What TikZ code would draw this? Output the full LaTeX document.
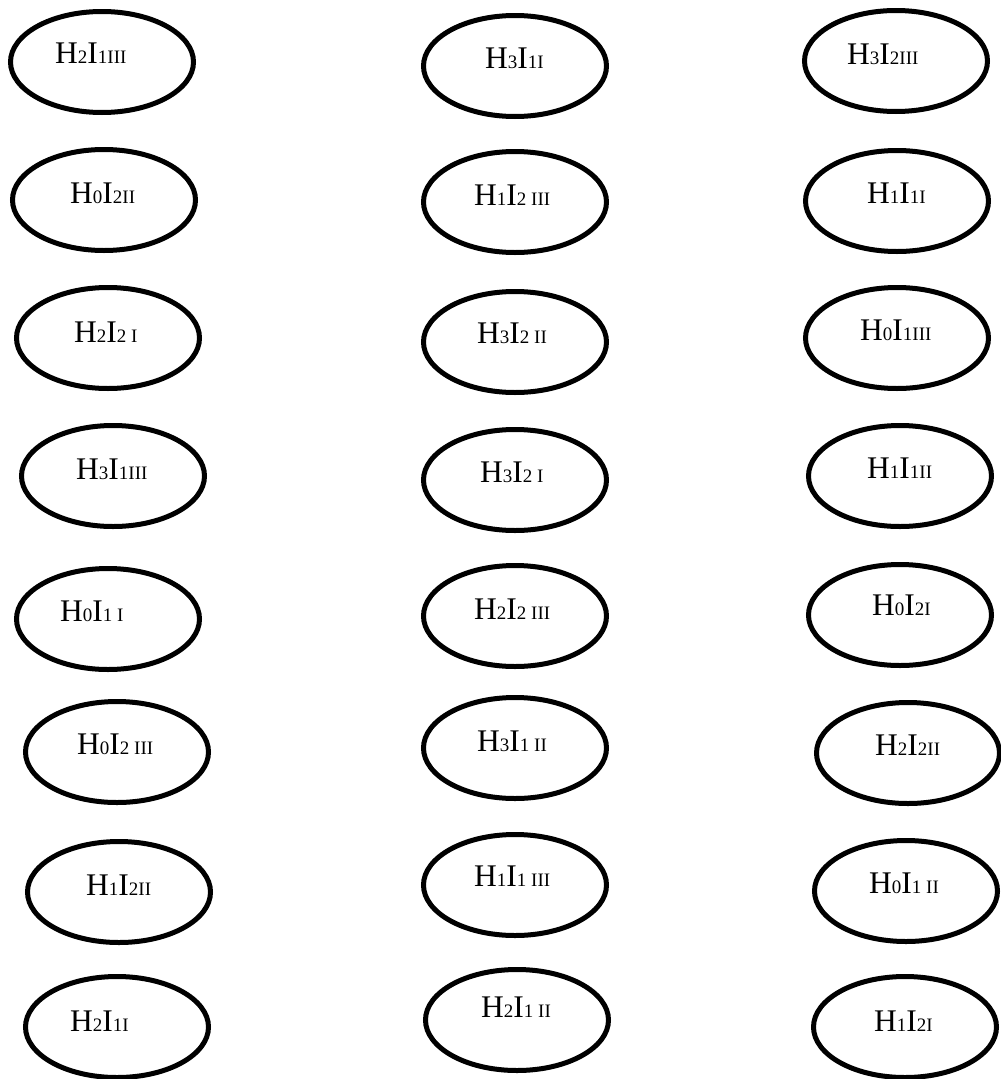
\documentclass[tikz,border=0pt]{standalone}
\usepackage{fontspec}
\setmainfont{Liberation Serif}
\usetikzlibrary{shapes.geometric}
\newcommand\sm[1]{{\fontsize{19}{19}\selectfont #1}}
\tikzset{
  oval/.style={draw=black, line width=5pt, ellipse, minimum width=183pt, minimum height=101pt, inner sep=0pt},
  lab/.style={anchor=base west, inner sep=0pt, font=\fontsize{31.5}{31.5}\selectfont}
}
\begin{document}
\begin{tikzpicture}[x=1pt,y=-1pt]
\useasboundingbox[fill=white] (0,0) rectangle (1001,1079);
% column 1
\node[oval] (e11) at (102,62) {};
\node[oval] (e12) at (104,200) {};
\node[oval] (e13) at (108,338) {};
\node[oval] (e14) at (113,476) {};
\node[oval] (e15) at (108,619) {};
\node[oval] (e16) at (117,752) {};
\node[oval] (e17) at (119,892) {};
\node[oval] (e18) at (117,1027) {};
\node[lab] (t11) at (55,63) {H\sm{2}I\sm{1III}};
\node[lab] (t12) at (70,203) {H\sm{0}I\sm{2II}};
\node[lab] (t13) at (74,342) {H\sm{2}I\sm{2 I}};
\node[lab] (t14) at (76,479) {H\sm{3}I\sm{1III}};
\node[lab] (t15) at (60,621) {H\sm{0}I\sm{1 I}};
\node[lab] (t16) at (77,754) {H\sm{0}I\sm{2 III}};
\node[lab] (t17) at (86,895) {H\sm{1}I\sm{2II}};
\node[lab] (t18) at (70,1031) {H\sm{2}I\sm{1I}};
% column 2
\node[oval] (e21) at (515,66) {};
\node[oval] (e22) at (515,202) {};
\node[oval] (e23) at (515,342) {};
\node[oval] (e24) at (515,480) {};
\node[oval] (e25) at (515,616) {};
\node[oval] (e26) at (515,748) {};
\node[oval] (e27) at (515,885) {};
\node[oval] (e28) at (517,1020) {};
\node[lab] (t21) at (485,68) {H\sm{3}I\sm{1I}};
\node[lab] (t22) at (474,205) {H\sm{1}I\sm{2 III}};
\node[lab] (t23) at (477,343) {H\sm{3}I\sm{2 II}};
\node[lab] (t24) at (480,482) {H\sm{3}I\sm{2 I}};
\node[lab] (t25) at (474,619) {H\sm{2}I\sm{2 III}};
\node[lab] (t26) at (477,751) {H\sm{3}I\sm{1 II}};
\node[lab] (t27) at (474,886) {H\sm{1}I\sm{1 III}};
\node[lab] (t28) at (481,1017) {H\sm{2}I\sm{1 II}};
% column 3
\node[oval] (e31) at (896,61) {};
\node[oval] (e32) at (897,201) {};
\node[oval] (e33) at (897,338) {};
\node[oval] (e34) at (900,476) {};
\node[oval] (e35) at (900,615) {};
\node[oval] (e36) at (908,753) {};
\node[oval] (e37) at (906,891) {};
\node[oval] (e38) at (905,1027) {};
\node[lab] (t31) at (847,64) {H\sm{3}I\sm{2III}};
\node[lab] (t32) at (867,203) {H\sm{1}I\sm{1I}};
\node[lab] (t33) at (860,340) {H\sm{0}I\sm{1III}};
\node[lab] (t34) at (867,478) {H\sm{1}I\sm{1II}};
\node[lab] (t35) at (872,615) {H\sm{0}I\sm{2I}};
\node[lab] (t36) at (875,755) {H\sm{2}I\sm{2II}};
\node[lab] (t37) at (869,893) {H\sm{0}I\sm{1 II}};
\node[lab] (t38) at (874,1031) {H\sm{1}I\sm{2I}};
\end{tikzpicture}
\end{document}
